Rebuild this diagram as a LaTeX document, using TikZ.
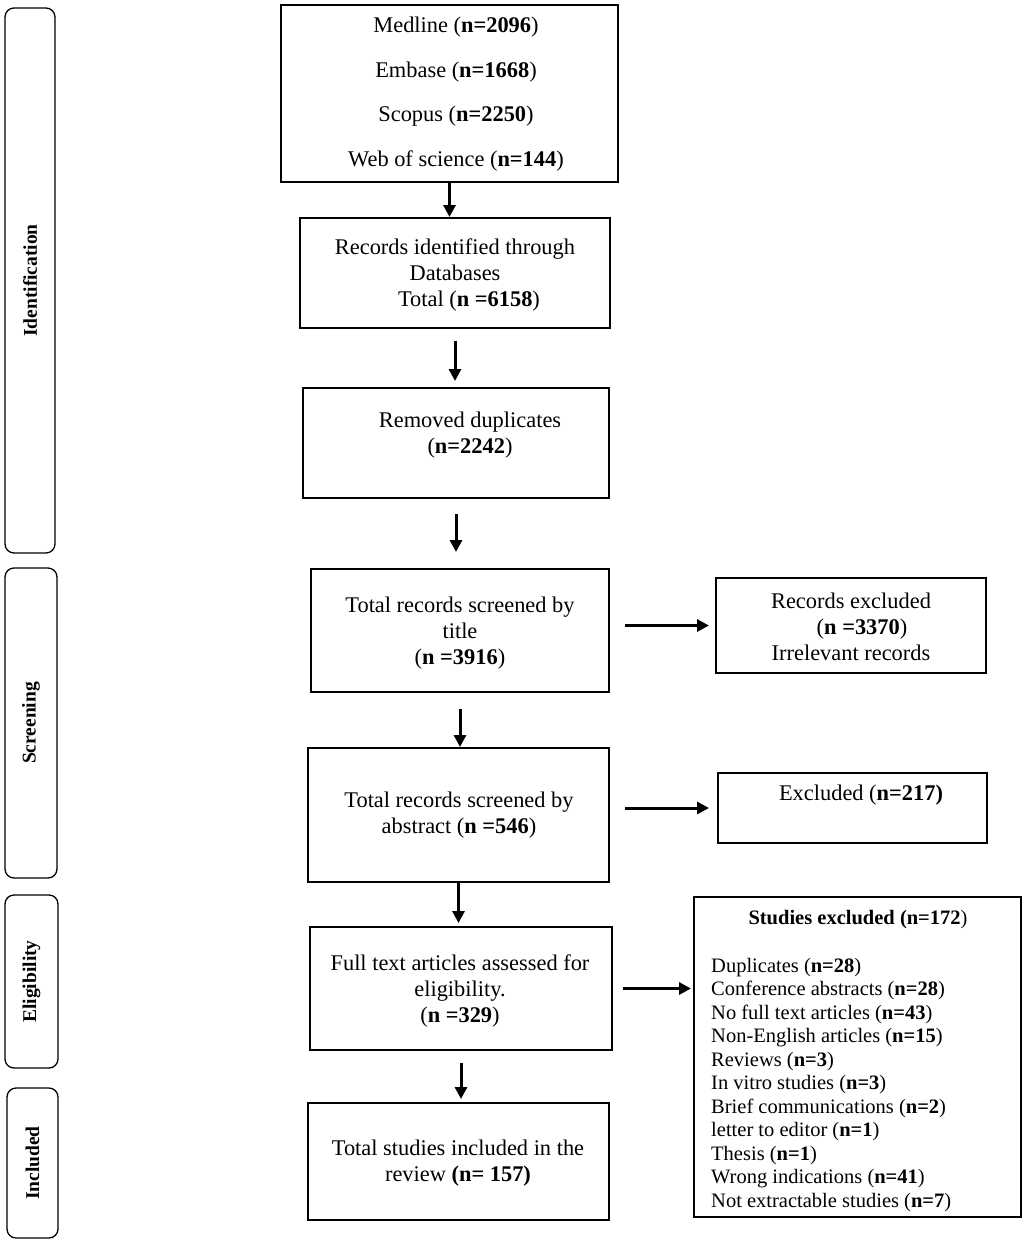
\documentclass[tikz,border=0pt]{standalone}
\usepackage{fontspec}
\setmainfont{Liberation Serif}
\usetikzlibrary{arrows.meta,calc}
\tikzset{
  box/.style={draw, line width=2pt, inner sep=0pt},
  phase/.style={draw, line width=1.3pt, rounded corners=9pt, inner sep=0pt},
  txt/.style={align=center, font=\fontsize{22.4}{26}\selectfont, inner sep=0pt},
  listtxt/.style={align=left, font=\fontsize{20.5}{23.5}\selectfont, inner sep=0pt},
  arr/.style={line width=3pt, -{Triangle[length=12pt,width=12pt]}},
  plabel/.style={rotate=90, font=\fontsize{19.5}{22}\selectfont\bfseries, inner sep=0pt}
}
\begin{document}
\begin{tikzpicture}[x=1pt,y=1pt]
\useasboundingbox (0,0) rectangle (1026,-1245);
% phase boxes
\node[phase, minimum width=50, minimum height=545] (p1) at (30,-280.5) {};
\node[phase, minimum width=52, minimum height=310] (p2) at (31,-723) {};
\node[phase, minimum width=53, minimum height=173] (p3) at (31.5,-981.5) {};
\node[phase, minimum width=51, minimum height=150] (p4) at (32.5,-1163) {};
\node[plabel] (l1) at (p1.center) {Identification};
\node[plabel] (l2) at (p2.center) {Screening};
\node[plabel] (l3) at (p3.center) {Eligibility};
\node[plabel] (l4) at (p4.center) {Included};
% main boxes
\node[box, minimum width=337, minimum height=177] (b1) at (449.5,-93.5) {};
\node[box, minimum width=310, minimum height=110] (b2) at (455,-273) {};
\node[box, minimum width=306, minimum height=110] (b3) at (456,-443) {};
\node[box, minimum width=298, minimum height=123] (b4) at (460,-630.5) {};
\node[box, minimum width=301, minimum height=134] (b5) at (458.5,-815) {};
\node[box, minimum width=302, minimum height=123] (b6) at (461,-988.5) {};
\node[box, minimum width=301, minimum height=117] (b7) at (458.5,-1161.5) {};
\node[box, minimum width=270, minimum height=95] (r1) at (851,-625.5) {};
\node[box, minimum width=269, minimum height=70] (r2) at (852.5,-808) {};
\node[box, minimum width=327, minimum height=320] (r3) at (857.5,-1057) {};
% texts
\node[txt, font=\fontsize{22.4}{44.5}\selectfont] (t1) at (456,-94) {Medline (\textbf{n=2096})\\Embase (\textbf{n=1668})\\Scopus (\textbf{n=2250})\\Web of science (\textbf{n=144})};
\node[txt] (t2) at (455,-275) {Records identified through\\Databases\\\hspace*{28pt}Total (\textbf{n =6158})};
\node[txt] (t3) at (470,-435) {Removed duplicates\\(\textbf{n=2242})};
\node[txt] (t4) at (460,-633) {Total records screened by\\title\\(\textbf{n =3916})};
\node[txt] (t5) at (459,-815.5) {Total records screened by\\abstract (\textbf{n =546})};
\node[txt] (t6) at (460,-991) {Full text articles assessed for\\eligibility.\\(\textbf{n =329})};
\node[txt] (t7) at (458,-1163) {Total studies included in the\\review \textbf{(n= 157)}};
\node[txt] (t8) at (851,-627) {Records excluded\\\hspace*{22pt}(\textbf{n =3370})\\Irrelevant records};
\node[txt] (t9) at (861,-795) {Excluded (\textbf{n=217)}};
\node[listtxt, font=\fontsize{20.5}{23.5}\selectfont\bfseries] (t10) at (858,-920) {Studies excluded (n=172\textmd{)}};
\begin{scope}
\clip (694,-897) rectangle (1021,-1212);
\node[listtxt, anchor=north west] (t11) at (711,-958) {Duplicates (\textbf{n=28})\\
Conference abstracts (\textbf{n=28})\\
No full text articles (\textbf{n=43})\\
Non-English articles (\textbf{n=15})\\
Reviews (\textbf{n=3})\\
In vitro studies (\textbf{n=3})\\
Brief communications (\textbf{n=2})\\
letter to editor (\textbf{n=1})\\
Thesis (\textbf{n=1})\\
Wrong indications (\textbf{n=41})\\
Not extractable studies (\textbf{n=7})};
\end{scope}
% arrows
\draw[arr] (b1.south) -- (b1.south |- b2.north);
\draw[arr, shorten <=12pt, shorten >=6pt] (b2.south) -- (b2.south |- b3.north);
\draw[arr, shorten <=15pt, shorten >=16pt] (b3.south) -- (b3.south |- b4.north);
\draw[arr, shorten <=16pt, shorten >=0pt] (b4.south) -- (b4.south |- b5.north);
\draw[arr, shorten >=3pt] (b5.south) -- (b5.south |- b6.north);
\draw[arr, shorten <=12pt, shorten >=3pt] (b6.south) -- (b6.south |- b7.north);
\draw[arr, shorten <=15pt, shorten >=6pt] (b4.east |- r1.west) -- (r1.west);
\draw[arr, shorten <=15pt, shorten >=8pt] (b5.east |- r2.west) -- (r2.west);
\draw[arr, shorten <=10pt, shorten >=2pt] (b6.east) -- (b6.east -| r3.west);
\end{tikzpicture}
\end{document}
